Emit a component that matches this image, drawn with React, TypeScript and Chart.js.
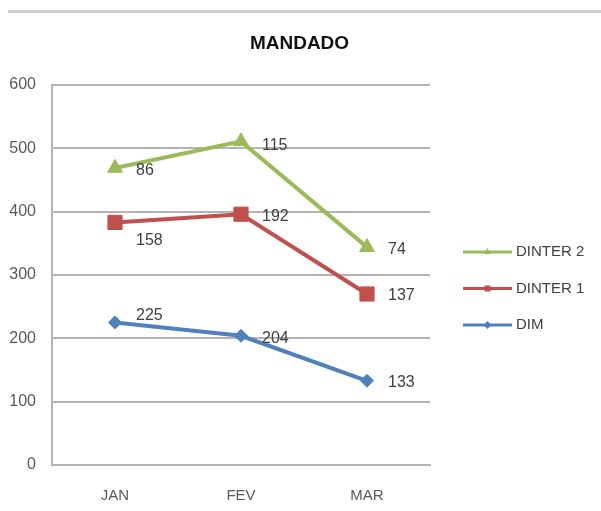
import React, { useEffect, useRef } from "react";
import { Chart, registerables } from "chart.js";

Chart.register(...registerables);

// ---- data ----
const categories = ["JAN", "FEV", "MAR"];
const dimValues = [225, 204, 133];
const dinter1Values = [158, 192, 137];
const dinter2Values = [86, 115, 74];
const yTickValues = [0, 100, 200, 300, 400, 500, 600];
const seriesNames = ["DIM", "DINTER 1", "DINTER 2"];
const chartTitle = "MANDADO";

// ---- styles ----
const COLORS = ["#4F81BD", "#C0504D", "#9BBB59"];
const FONT = "'Liberation Sans', Arial, sans-serif";
const TEXT = "#404040";
const GRID = "#b3b3b3";
// per-dataset, per-point vertical nudges of value labels
const LABEL_DY = [
  [-7, 3, 2],
  [18, 2, 2],
  [3, 4, 2],
];

const valueLabelPlugin = {
  id: "valueLabels",
  afterDatasetsDraw(chart: any) {
    const ctx = chart.ctx;
    ctx.save();
    ctx.font = `16px ${FONT}`;
    ctx.fillStyle = TEXT;
    ctx.textAlign = "left";
    ctx.textBaseline = "middle";
    chart.data.datasets.forEach((ds: any, i: number) => {
      const meta = chart.getDatasetMeta(i);
      meta.data.forEach((pt: any, j: number) => {
        ctx.fillText(String(ds.data[j]), pt.x + 21, pt.y + LABEL_DY[i][j]);
      });
    });
    ctx.restore();
  },
};

const centeredTitlePlugin = {
  id: "centeredTitle",
  afterDraw(chart: any) {
    const ctx = chart.ctx;
    ctx.save();
    ctx.font = `bold 19px ${FONT}`;
    ctx.fillStyle = "#111";
    ctx.textAlign = "center";
    ctx.textBaseline = "middle";
    ctx.fillText(chartTitle, chart.width / 2 - 1, 44);
    ctx.restore();
  },
};

function drawMarker(ctx: any, style: string, x: number, y: number, r: number) {
  ctx.beginPath();
  if (style === "triangle") {
    ctx.moveTo(x, y - r);
    ctx.lineTo(x + r * 0.87, y + r * 0.5);
    ctx.lineTo(x - r * 0.87, y + r * 0.5);
  } else if (style === "rect") {
    ctx.rect(x - r * 0.75, y - r * 0.75, r * 1.5, r * 1.5);
  } else {
    ctx.moveTo(x, y - r);
    ctx.lineTo(x + r, y);
    ctx.lineTo(x, y + r);
    ctx.lineTo(x - r, y);
  }
  ctx.closePath();
  ctx.fill();
}

const sideLegendPlugin = {
  id: "sideLegend",
  afterDraw(chart: any) {
    const { ctx, chartArea } = chart;
    const ds = chart.data.datasets.slice().reverse();
    const x0 = chartArea.right + 33;
    const y0 = (chartArea.top + chartArea.bottom) / 2 - 23;
    ctx.save();
    ctx.font = `15px ${FONT}`;
    ctx.textAlign = "left";
    ctx.textBaseline = "middle";
    ds.forEach((d: any, k: number) => {
      const y = y0 + k * 36.5;
      ctx.strokeStyle = d.borderColor;
      ctx.fillStyle = d.borderColor;
      ctx.lineWidth = 3;
      ctx.beginPath();
      ctx.moveTo(x0, y);
      ctx.lineTo(x0 + 49, y);
      ctx.stroke();
      drawMarker(ctx, d.pointStyle, x0 + 24.5, y, 4);
      ctx.fillStyle = TEXT;
      ctx.fillText(d.label, x0 + 53, y);
    });
    ctx.restore();
  },
};

export default function App() {
  const ref = useRef<HTMLCanvasElement | null>(null);

  useEffect(() => {
    if (!ref.current) return;
    const seriesValues = [dimValues, dinter1Values, dinter2Values];
    const pointStyles = ["rectRot", "rect", "triangle"];
    const radii = [6.5, 10, 8.5];
    const chart = new Chart(ref.current, {
      type: "line",
      data: {
        labels: categories,
        datasets: seriesNames.map((name, i) => ({
          label: name,
          data: seriesValues[i],
          borderColor: COLORS[i],
          backgroundColor: COLORS[i],
          pointBackgroundColor: COLORS[i],
          pointBorderColor: COLORS[i],
          pointBorderWidth: 1,
          borderWidth: 4,
          tension: 0,
          fill: false,
          pointStyle: pointStyles[i],
          pointRadius: radii[i],
        })),
      },
      options: {
        responsive: false,
        animation: false,
        layout: { padding: { left: 0, right: 171, top: 85, bottom: 0 } },
        plugins: {
          legend: { display: false },
          tooltip: { enabled: false },
          title: { display: false },
        },
        scales: {
          x: {
            type: "category",
            offset: true,
            grid: { display: false, drawTicks: false },
            border: { display: true, color: GRID, width: 2 },
            ticks: {
              color: "#595959",
              font: { family: FONT, size: 15 },
              padding: 22,
            },
            afterFit: (s: any) => {
              s.height = 46;
            },
          },
          y: {
            stacked: true,
            min: 0,
            max: 600,
            grid: { color: GRID, lineWidth: 2, drawTicks: false },
            border: { display: true, color: GRID, width: 2 },
            ticks: {
              color: "#595959",
              font: { family: FONT, size: 16 },
              padding: 16,
            },
            afterBuildTicks: (s: any) => {
              s.ticks = yTickValues.map((v) => ({ value: v }));
            },
            afterFit: (s: any) => {
              s.width = 52;
            },
          },
        },
      },
      plugins: [valueLabelPlugin, sideLegendPlugin, centeredTitlePlugin],
    } as any);
    return () => chart.destroy();
  }, []);

  return (
    <div style={{ position: "absolute", left: 0, top: 0, width: 601, height: 511, background: "#fff" }}>
      <div style={{ position: "absolute", left: 8, top: 10, width: 593, height: 3, background: "#cccccc" }} />
      <canvas ref={ref} width={601} height={511} style={{ display: "block", width: 601, height: 511 }} />
    </div>
  );
}
